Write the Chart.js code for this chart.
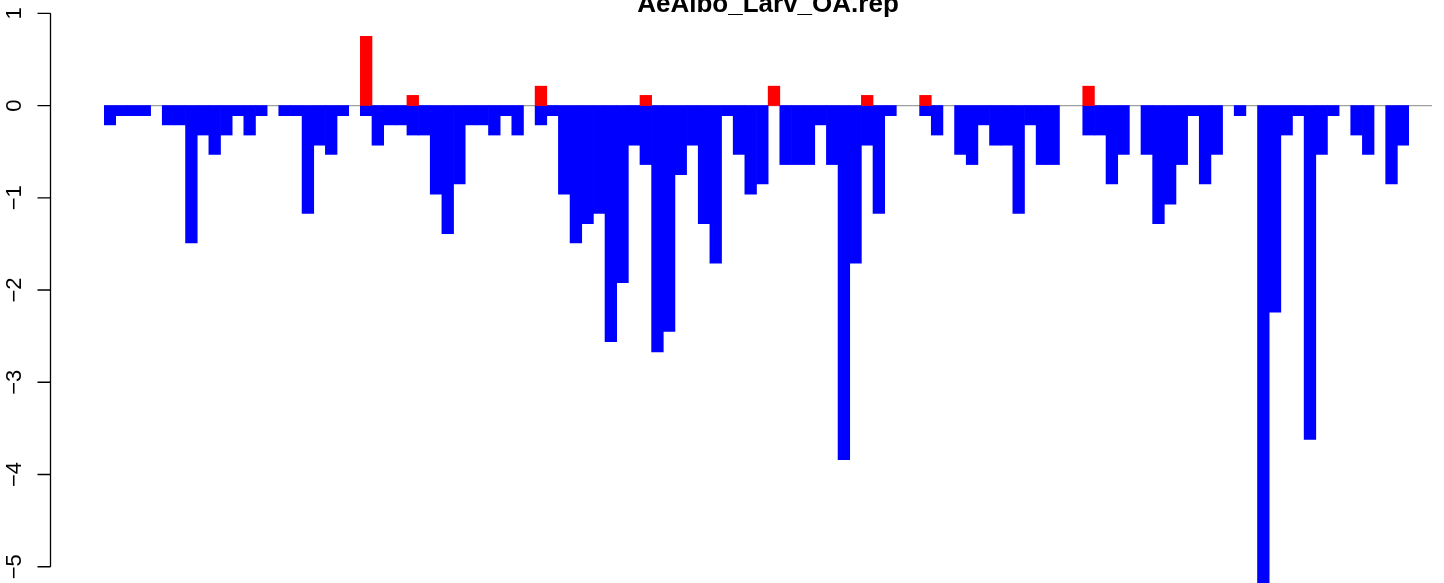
<!DOCTYPE html>
<html>
<head>
<meta charset="utf-8">
<title>AeAlbo_Larv_OA.rep</title>
<script src="https://cdn.jsdelivr.net/npm/chart.js@4/dist/chart.umd.min.js"></script>
<style>
  html, body { margin: 0; padding: 0; background: #fff; }
  #wrap { width: 1444px; height: 583px; }
</style>
</head>
<body>
<div id="wrap"><canvas id="repChart" width="1444" height="583"></canvas></div>
<script>
// chart title
const chartTitle = 'AeAlbo_Larv_OA.rep';

// losses (blue, negative), one per bar position
const lossValues = [
  -0.21, -0.11, -0.11, -0.11, 0, -0.21, -0.21, -1.49, -0.32, -0.53,
  -0.32, -0.11, -0.32, -0.11, 0, -0.11, -0.11, -1.17, -0.43, -0.53,
  -0.11, 0, -0.11, -0.43, -0.21, -0.21, -0.32, -0.32, -0.96, -1.39,
  -0.85, -0.21, -0.21, -0.32, -0.11, -0.32, 0, -0.21, -0.11, -0.96,
  -1.49, -1.28, -1.17, -2.56, -1.92, -0.43, -0.64, -2.67, -2.45, -0.75,
  -0.43, -1.28, -1.71, -0.11, -0.53, -0.96, -0.85, 0, -0.64, -0.64,
  -0.64, -0.21, -0.64, -3.84, -1.71, -0.43, -1.17, -0.11, 0, 0,
  -0.11, -0.32, 0, -0.53, -0.64, -0.21, -0.43, -0.43, -1.17, -0.21,
  -0.64, -0.64, 0, 0, -0.32, -0.32, -0.85, -0.53, 0, -0.53,
  -1.28, -1.07, -0.64, -0.11, -0.85, -0.53, 0, -0.11, 0, -5.33,
  -2.24, -0.32, -0.11, -3.62, -0.53, -0.11, 0, -0.32, -0.53, 0,
  -0.85, -0.43
];

// gains (red, positive), same positions
const gainValues = [
  0, 0, 0, 0, 0, 0, 0, 0, 0, 0,
  0, 0, 0, 0, 0, 0, 0, 0, 0, 0,
  0, 0, 0.75, 0, 0, 0, 0.11, 0, 0, 0,
  0, 0, 0, 0, 0, 0, 0, 0.21, 0, 0,
  0, 0, 0, 0, 0, 0, 0.11, 0, 0, 0,
  0, 0, 0, 0, 0, 0, 0, 0.21, 0, 0,
  0, 0, 0, 0, 0, 0.11, 0, 0, 0, 0,
  0.11, 0, 0, 0, 0, 0, 0, 0, 0, 0,
  0, 0, 0, 0, 0.21, 0, 0, 0, 0, 0,
  0, 0, 0, 0, 0, 0, 0, 0, 0, 0,
  0, 0, 0, 0, 0, 0, 0, 0, 0, 0,
  0, 0
];

// y axis ticks
const yTicks = [1, 0, -1, -2, -3, -4, -5];
const yTickLabels = ['1', '0', '\u22121', '\u22122', '\u22123', '\u22124', '\u22125'];

const categories = lossValues.map((v, i) => String(i + 1));

// R style left axis, zero line and title
const rStyle = {
  id: 'rStyle',
  beforeDatasetsDraw(chart) {
    const { ctx, chartArea, scales } = chart;
    const y0 = scales.y.getPixelForValue(0);
    ctx.save();
    ctx.strokeStyle = '#a0a0a0';
    ctx.lineWidth = 1.2;
    ctx.beginPath();
    ctx.moveTo(chartArea.left, y0);
    ctx.lineTo(chartArea.right + 23, y0);
    ctx.stroke();
    ctx.restore();
  },
  afterDraw(chart) {
    const { ctx, chartArea, scales } = chart;
    const axisX = 50.5;
    ctx.save();
    ctx.strokeStyle = '#000';
    ctx.lineWidth = 1.3;
    ctx.beginPath();
    ctx.moveTo(axisX, scales.y.getPixelForValue(yTicks[0]));
    ctx.lineTo(axisX, scales.y.getPixelForValue(yTicks[yTicks.length - 1]));
    yTicks.forEach(t => {
      const py = scales.y.getPixelForValue(t);
      ctx.moveTo(axisX, py);
      ctx.lineTo(37.5, py);
    });
    ctx.stroke();

    ctx.fillStyle = '#000';
    ctx.font = '22px "Liberation Sans", Arial, Helvetica, sans-serif';
    ctx.textAlign = 'center';
    ctx.textBaseline = 'alphabetic';
    yTicks.forEach((t, i) => {
      const py = scales.y.getPixelForValue(t);
      ctx.save();
      ctx.translate(21, py);
      ctx.rotate(-Math.PI / 2);
      ctx.fillText(yTickLabels[i], 0, 0);
      ctx.restore();
    });

    // title, centred on the plot region
    ctx.font = 'bold 26px "Liberation Sans", Arial, Helvetica, sans-serif';
    ctx.fillText(chartTitle, (chartArea.left + chartArea.right + 23) / 2, 11.5);
    ctx.restore();
  }
};

new Chart(document.getElementById('repChart').getContext('2d'), {
  type: 'bar',
  data: {
    labels: categories,
    datasets: [
      {
        label: 'gain',
        data: gainValues.map(v => (v === 0 ? null : v)),
        backgroundColor: '#ff0000',
        borderWidth: 0
      },
      {
        label: 'loss',
        data: lossValues.map(v => (v === 0 ? null : v)),
        backgroundColor: '#0000ff',
        borderWidth: 0
      }
    ]
  },
  options: {
    responsive: false,
    animation: false,
    devicePixelRatio: 1,
    layout: { padding: { left: 104, right: 35, top: 0, bottom: 0 } },
    datasets: {
      bar: { barPercentage: 1, categoryPercentage: 1 }
    },
    scales: {
      x: { display: false, stacked: true },
      y: { display: false, stacked: true, min: -5.176, max: 1.144 }
    },
    plugins: {
      legend: { display: false },
      tooltip: { enabled: false },
      title: { display: false }
    }
  },
  plugins: [rStyle]
});
</script>
</body>
</html>
